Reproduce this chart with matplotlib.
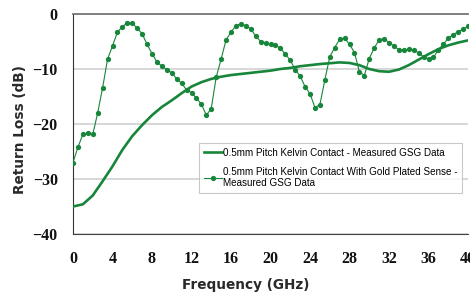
import numpy as np
import matplotlib
matplotlib.use("Agg")
import matplotlib.pyplot as plt

# data (GHz, dB)
freq_solid = list(range(0, 41))
rl_solid = [-35.0, -34.6, -33.0, -30.4, -27.7, -24.7, -22.2, -20.2, -18.4, -16.9,
            -15.7, -14.4, -13.2, -12.4, -11.8, -11.4, -11.1, -10.9, -10.7, -10.5,
            -10.3, -10.0, -9.8, -9.5, -9.3, -9.1, -8.95, -8.8, -8.9, -9.3,
            -10.0, -10.4, -10.5, -10.1, -9.3, -8.3, -7.3, -6.4, -5.7, -5.2, -4.8]

freq_gold = [i * 0.5 for i in range(81)]
rl_gold = [-27.0, -24.2, -21.9, -21.6, -21.9, -18.0, -13.4, -8.2, -5.8, -3.3,
           -2.3, -1.6, -1.7, -2.6, -3.6, -5.5, -7.2, -8.7, -9.5, -10.1,
           -10.7, -11.8, -12.6, -13.8, -14.3, -15.3, -16.4, -18.4, -17.2, -11.5,
           -8.2, -4.7, -3.3, -2.1, -1.8, -2.1, -2.7, -4.0, -5.0, -5.3,
           -5.5, -5.7, -6.2, -7.3, -8.4, -10.1, -11.3, -13.2, -14.5, -17.0,
           -16.5, -12.0, -7.8, -6.1, -4.6, -4.4, -5.5, -7.0, -10.5, -11.2,
           -8.1, -6.2, -4.7, -4.5, -5.2, -5.8, -6.5, -6.6, -6.4, -6.5,
           -7.1, -7.8, -8.2, -7.9, -6.5, -5.5, -4.4, -3.8, -3.2, -2.8, -2.2]

x_ticks = [0, 4, 8, 12, 16, 20, 24, 28, 32, 36, 40]
y_ticks = [0, -10, -20, -30, -40]

label_solid = "0.5mm Pitch Kelvin Contact - Measured GSG Data"
label_gold = "0.5mm Pitch Kelvin Contact With Gold Plated Sense -\nMeasured GSG Data"

green = "#17863a"

fig = plt.figure(figsize=(4.7, 2.97), dpi=100)
ax = fig.add_axes([73 / 470, 1 - 234 / 297, 395 / 470, 220 / 297])

ax.plot(freq_solid, rl_solid, color=green, linewidth=1.9, label=label_solid, zorder=3)
ax.plot(freq_gold, rl_gold, color=green, linewidth=0.8, marker="o",
        markersize=3.8, markeredgewidth=0, label=label_gold, zorder=4)

ax.set_xlim(0, 40)
ax.set_ylim(-40, 0)
ax.set_xticks(x_ticks)
ax.set_yticks(y_ticks)
ax.tick_params(length=0)
ax.tick_params(axis="y", pad=11)
ax.tick_params(axis="x", pad=12)
for t in ax.get_xticklabels() + ax.get_yticklabels():
    t.set_fontfamily("Liberation Serif")
    t.set_fontweight("bold")
    t.set_fontsize(11.5)
    t.set_color("#111111")

ax.grid(axis="y", color="#d4d4d4", linewidth=1.3)
ax.set_axisbelow(True)
ax.spines["right"].set_visible(False)
ax.spines["top"].set_color("#777777")
ax.spines["top"].set_linewidth(1.3)
ax.spines["left"].set_color("#333333")
ax.spines["bottom"].set_color("#444444")

ax.set_xlabel("Frequency (GHz)", fontsize=9.8, fontweight="bold",
              color="#2a2a2a", va="center")
ax.xaxis.set_label_coords((246 - 73) / 395, (234 - 285) / 220)
ax.set_ylabel("Return Loss (dB)", fontsize=9.8, fontweight="bold",
              color="#2a2a2a", va="center")
ax.yaxis.set_label_coords((20 - 73) / 395, (234 - 130) / 220)

leg = ax.legend(loc="upper right", bbox_to_anchor=(0.998, 0.436),
                frameon=True, fancybox=False, handlelength=1.8,
                handletextpad=0.1, labelspacing=0.9, borderpad=0.5,
                prop={"family": "Liberation Sans", "size": 7.1})
leg.get_frame().set_edgecolor("#bbbbbb")
leg.get_frame().set_linewidth(0.8)

fig.savefig("out.png", dpi=100)
